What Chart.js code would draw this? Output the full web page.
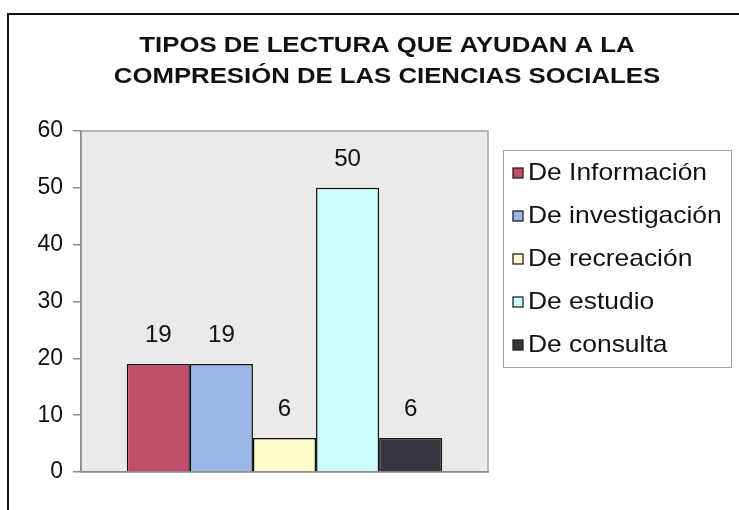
<!DOCTYPE html>
<html><head><meta charset="utf-8">
<script src="https://cdn.jsdelivr.net/npm/chart.js@4"></script>
<style>html,body{margin:0;padding:0;background:#fff}#wrap{width:739px;height:510px;position:relative}</style>
</head><body><div id="wrap"><canvas id="c" width="739" height="510"></canvas></div>
<script>
const categories = [''];
const seriesNames = ['De Información', 'De investigación', 'De recreación', 'De estudio', 'De consulta'];
const seriesValues = [19, 19, 6, 50, 6];
const seriesColors = ['#c44d6a', '#9bb5e8', '#fffccc', '#ccfcfc', '#393540'];
const yTickValues = [0, 10, 20, 30, 40, 50, 60];
const titleLines = ['TIPOS DE LECTURA QUE AYUDAN A LA', 'COMPRESIÓN DE LAS CIENCIAS SOCIALES'];

const FONT = "'Liberation Sans', Arial, sans-serif";

function drawText(ctx, text, x, y, size, bold, sx, align) {
  ctx.save();
  ctx.font = (bold ? 'bold ' : '') + size + 'px ' + FONT;
  ctx.textBaseline = 'middle';
  ctx.fillStyle = '#111';
  const w = ctx.measureText(text).width * sx;
  let left = x;
  if (align === 'center') left = x - w / 2;
  ctx.translate(left, y);
  ctx.scale(sx, 1);
  ctx.textAlign = 'left';
  ctx.fillText(text, 0, 0);
  ctx.restore();
}

const decor = {
  id: 'decor',
  beforeDraw(chart) {
    const ctx = chart.ctx, a = chart.chartArea;
    ctx.save();
    ctx.fillStyle = '#fff';
    ctx.fillRect(0, 0, chart.width, chart.height);
    ctx.fillStyle = '#ebeae8';
    ctx.fillRect(a.left, a.top, a.right - a.left, a.bottom - a.top);
    ctx.strokeStyle = '#a3a3a3';
    ctx.lineWidth = 1.5;
    ctx.strokeRect(a.left, a.top, a.right - a.left, a.bottom - a.top);
    ctx.restore();
  },
  afterDatasetsDraw(chart) {
    const ctx = chart.ctx;
    chart.data.datasets.forEach((ds, i) => {
      const el = chart.getDatasetMeta(i).data[0];
      drawText(ctx, String(ds.data[0]), el.x, el.y - 28, 23, false, 1.05, 'center');
    });
  },
  afterDraw(chart) {
    const ctx = chart.ctx;
    ctx.save();
    ctx.strokeStyle = '#111';
    ctx.lineWidth = 2;
    ctx.beginPath();
    ctx.moveTo(8, 510); ctx.lineTo(8, 14); ctx.lineTo(739, 14);
    ctx.stroke();
    ctx.restore();
    titleLines.forEach((t, i) => drawText(ctx, t, 387, 45.5 + i * 31, 22, true, 1.17, 'center'));
    ctx.save();
    ctx.strokeStyle = '#a0a0a0';
    ctx.lineWidth = 1;
    ctx.strokeRect(503.5, 150.5, 228, 217);
    ctx.restore();
    chart.data.datasets.forEach((ds, i) => {
      const cy = 173 + i * 43;
      ctx.save();
      ctx.fillStyle = ds.backgroundColor;
      ctx.strokeStyle = '#222';
      ctx.lineWidth = 1.3;
      ctx.fillRect(513, cy - 5, 10, 10);
      ctx.strokeRect(513, cy - 5, 10, 10);
      ctx.restore();
      drawText(ctx, ds.label, 528, cy, 24, false, 1.1, 'left');
    });
  }
};

new Chart(document.getElementById('c'), {
  type: 'bar',
  data: {
    labels: categories,
    datasets: seriesNames.map((n, i) => ({
      label: n,
      data: [seriesValues[i]],
      backgroundColor: seriesColors[i],
      borderColor: '#111',
      borderWidth: 1.5,
      categoryPercentage: 0.775,
      barPercentage: 1
    }))
  },
  options: {
    responsive: false,
    animation: false,
    devicePixelRatio: 1,
    layout: { padding: { top: 131, left: 0, right: 251, bottom: 38 } },
    plugins: { legend: { display: false }, title: { display: false }, tooltip: { enabled: false } },
    scales: {
      x: {
        grid: { display: false },
        ticks: { display: false },
        border: { color: '#8c8c8c', width: 1.5 },
        afterFit(axis) { axis.height = 0; }
      },
      y: {
        min: yTickValues[0],
        max: yTickValues[yTickValues.length - 1],
        afterBuildTicks(axis) { axis.ticks = yTickValues.map(v => ({ value: v })); },
        ticks: { color: '#111', font: { family: FONT, size: 23 }, padding: 10 },
        grid: { drawOnChartArea: false, drawTicks: true, tickLength: 8, color: '#8c8c8c', lineWidth: 1.5 },
        border: { color: '#8c8c8c', width: 1.5 },
        afterFit(axis) { axis.width = 81; }
      }
    }
  },
  plugins: [decor]
});
</script>
</body></html>
